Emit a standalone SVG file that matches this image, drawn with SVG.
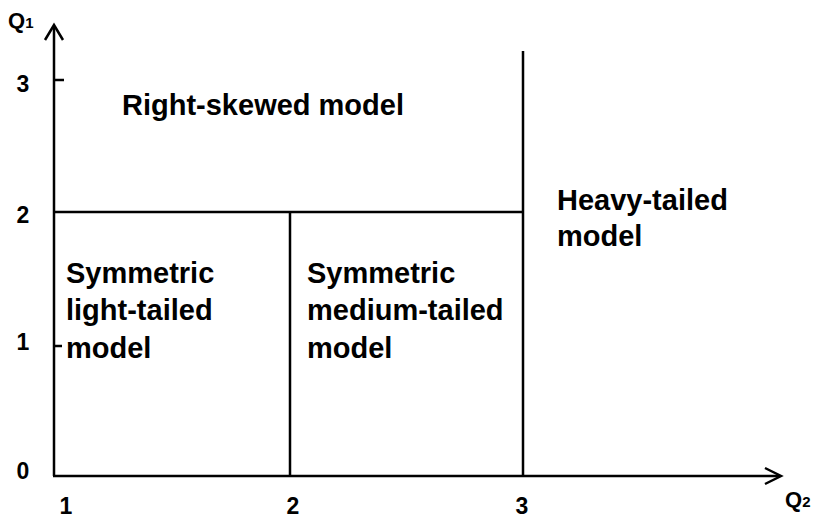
<svg xmlns="http://www.w3.org/2000/svg" width="819" height="523" viewBox="0 0 819 523">
<style>
.ln{stroke:#000;stroke-width:2.5;fill:none;stroke-linecap:butt}
.lab{font-family:"Liberation Sans",Arial,sans-serif;font-weight:bold;font-size:29px;fill:#000}
.num{font-family:"Liberation Sans",Arial,sans-serif;font-weight:bold;font-size:23px;fill:#000;text-anchor:middle}
.ax{font-family:"Liberation Sans",Arial,sans-serif;font-weight:bold;font-size:22px;fill:#000}
</style>
<rect width="819" height="523" fill="#fff"/>
<g id="connectors">
<path class="ln" d="M54,476 V26"/>
<path class="ln" d="M45,40 L54,25 L63,40"/>
<path class="ln" d="M53,476 H780"/>
<path class="ln" d="M765,468 L781,476 L765,484"/>
<path class="ln" d="M54,80 H64"/>
<path class="ln" d="M54,346 H62"/>
<path class="ln" d="M54,212 H523"/>
<path class="ln" d="M290,212 V476"/>
<path class="ln" d="M523,51 V476"/>
</g>
<g id="axis-labels">
<text class="ax" x="8" y="28">Q<tspan font-size="15">1</tspan></text>
<text class="ax" x="785" y="507">Q<tspan font-size="15">2</tspan></text>
<text class="num" x="23" y="92">3</text>
<text class="num" x="23" y="223">2</text>
<text class="num" x="23" y="350">1</text>
<text class="num" x="23" y="479">0</text>
<text class="num" x="66" y="514">1</text>
<text class="num" x="293" y="514">2</text>
<text class="num" x="522" y="514">3</text>
</g>
<g id="right-skewed">
<text class="lab" x="122" y="115">Right-skewed model</text>
</g>
<g id="heavy-tailed">
<text class="lab" x="557" y="210">Heavy-tailed</text>
<text class="lab" x="557" y="246">model</text>
</g>
<g id="sym-light">
<text class="lab" x="66" y="283">Symmetric</text>
<text class="lab" x="66" y="320">light-tailed</text>
<text class="lab" x="66" y="358">model</text>
</g>
<g id="sym-medium">
<text class="lab" x="307" y="283">Symmetric</text>
<text class="lab" x="307" y="320">medium-tailed</text>
<text class="lab" x="307" y="358">model</text>
</g>
</svg>
